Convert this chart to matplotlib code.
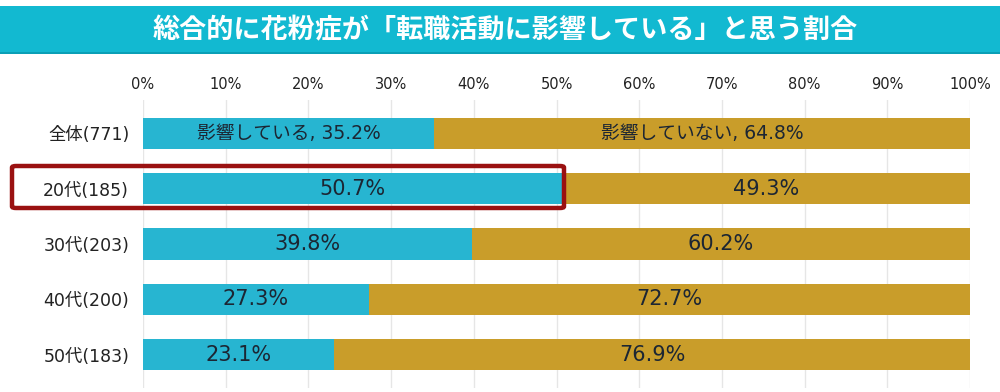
import matplotlib
matplotlib.use('Agg')
import matplotlib.pyplot as plt
from matplotlib.patches import Rectangle, FancyBboxPatch

plt.rcParams['font.family'] = ['DejaVu Sans', 'Noto Sans CJK JP']

############################# Data #############################

title = '総合的に花粉症が「転職活動に影響している」と思う割合'
groups = ['全体(771)', '20代(185)', '30代(203)', '40代(200)', '50代(183)']
affected = [35.2, 50.7, 39.8, 27.3, 23.1]
not_affected = [64.8, 49.3, 60.2, 72.7, 76.9]
affected_name = '影響している'
not_affected_name = '影響していない'
xticks = [0, 10, 20, 30, 40, 50, 60, 70, 80, 90, 100]

TEAL = '#27b5d1'
GOLD = '#c99d2a'
TEXT = '#1c2633'

############################# Figure #############################

fig = plt.figure(figsize=(10, 3.92), dpi=100)

# title band
band = Rectangle((0, 1 - 53 / 392), 1, 47 / 392, transform=fig.transFigure,
                 facecolor='#12b9d1', edgecolor='none', zorder=0)
fig.patches.append(band)
edge = Rectangle((0, 1 - 54 / 392), 1, 2 / 392, transform=fig.transFigure,
                 facecolor='#0b9fb6', edgecolor='none', zorder=0)
fig.patches.append(edge)
fig.text(0.505, 1 - 30 / 392, title, ha='center', va='center', color='white',
         fontsize=19.5, fontweight='bold', family=['Noto Sans CJK JP'])

ax = fig.add_axes([0.143, 1 - 388 / 392, 0.827, (388 - 100) / 392])

y = list(range(len(groups)))
ax.barh(y, affected, height=0.56, color=TEAL, zorder=2)
ax.barh(y, not_affected, left=affected, height=0.56, color=GOLD, zorder=2)

for i in y:
    a = affected[i]
    n = not_affected[i]
    if i == 0:
        la = f'{affected_name}, {a}%'
        ln = f'{not_affected_name}, {n}%'
        fs = 13.5
    else:
        la = f'{a}%'
        ln = f'{n}%'
        fs = 15
    ax.text(a / 2, i, la, ha='center', va='center', color=TEXT, fontsize=fs, zorder=3)
    ax.text(a + n / 2, i, ln, ha='center', va='center', color=TEXT, fontsize=fs, zorder=3)

ax.set_xlim(0, 100)
ax.set_ylim(4.6, -0.6)
ax.set_xticks(xticks)
ax.set_xticklabels([f'{t}%' for t in xticks], fontsize=10.5, color='#222222')
ax.xaxis.tick_top()
ax.set_yticks(y)
ax.set_yticklabels(groups, fontsize=12.5, color='#222222')
ax.tick_params(length=0, pad=10)
ax.tick_params(axis='x', pad=6)
ax.grid(axis='x', color='#e6e6e6', linewidth=1, zorder=0)
for s in ax.spines.values():
    s.set_visible(False)

# highlight box around the 20s row
box = FancyBboxPatch((12 / 1000, 1 - 208 / 392), 552 / 1000, 42 / 392,
                     boxstyle='round,pad=0,rounding_size=0.004',
                     transform=fig.transFigure, facecolor='none',
                     edgecolor='#9a1111', linewidth=3.2, zorder=5)
fig.patches.append(box)

plt.savefig('out.png', dpi=100)
